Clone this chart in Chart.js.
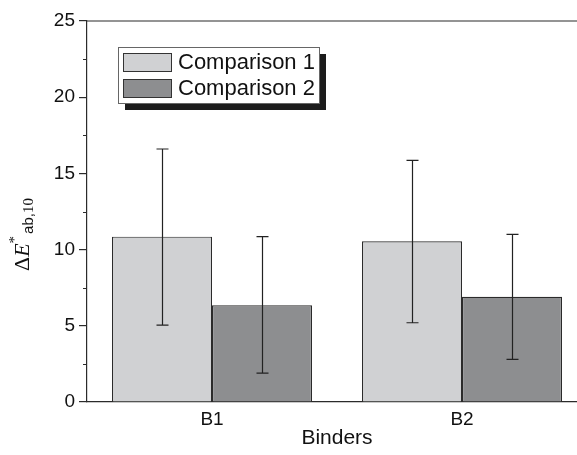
<!DOCTYPE html>
<html>
<head>
<meta charset="utf-8">
<script src="https://cdn.jsdelivr.net/npm/chart.js@4.4.1/dist/chart.umd.min.js"></script>
<style>
  html, body { margin: 0; padding: 0; background: #fff; overflow: hidden; }
  #wrap { width: 577px; height: 455px; overflow: hidden; }
</style>
</head>
<body>
<div id="wrap"><canvas id="chart" width="600" height="455"></canvas></div>
<script>
// data
const categories = ['B1', 'B2'];
const comp1 = [10.85, 10.55];
const comp2 = [6.35, 6.9];
const comp1Low = [5.05, 5.2];
const comp1High = [16.6, 15.85];
const comp2Low = [1.9, 2.8];
const comp2High = [10.85, 11.0];
const yTicks = [0, 5, 10, 15, 20, 25];
const yMinor = [2.5, 7.5, 12.5, 17.5, 22.5];

const axisColor = '#2b2b2b';
const errLow = [comp1Low, comp2Low];
const errHigh = [comp1High, comp2High];

// error bars, minor ticks, top frame, legend and y title
const extras = {
    id: 'extras',
    afterDatasetsDraw(chart) {
        const ctx = chart.ctx;
        const y = chart.scales.y;
        ctx.save();
        ctx.strokeStyle = '#222';
        ctx.lineWidth = 1.2;
        chart.data.datasets.forEach((ds, i) => {
            chart.getDatasetMeta(i).data.forEach((bar, j) => {
                const x = Math.round(bar.x) + 0.5;
                const lo = y.getPixelForValue(errLow[i][j]);
                const hi = y.getPixelForValue(errHigh[i][j]);
                ctx.beginPath();
                ctx.moveTo(x, lo); ctx.lineTo(x, hi);
                ctx.moveTo(x - 6, lo); ctx.lineTo(x + 6, lo);
                ctx.moveTo(x - 6, hi); ctx.lineTo(x + 6, hi);
                ctx.stroke();
            });
        });
        ctx.restore();
    },
    afterDraw(chart) {
        const ctx = chart.ctx;
        const area = chart.chartArea;
        const y = chart.scales.y;
        ctx.save();
        // top frame line
        ctx.strokeStyle = axisColor;
        ctx.lineWidth = 1.2;
        ctx.beginPath();
        ctx.moveTo(area.left, area.top);
        ctx.lineTo(area.right, area.top);
        ctx.stroke();
        // minor ticks
        ctx.beginPath();
        yMinor.forEach(v => {
            const py = Math.round(y.getPixelForValue(v)) + 0.5;
            ctx.moveTo(area.left - 4, py);
            ctx.lineTo(area.left, py);
        });
        ctx.stroke();

        // legend with drop shadow
        const lx = 118, ly = 47, lw = 201, lh = 56;
        ctx.fillStyle = '#1c1c1c';
        ctx.fillRect(lx + 7, ly + 7, lw, lh);
        ctx.fillStyle = '#fff';
        ctx.fillRect(lx, ly, lw, lh);
        ctx.strokeStyle = '#666';
        ctx.lineWidth = 1;
        ctx.strokeRect(lx + 0.5, ly + 0.5, lw, lh);
        ctx.font = '22px "Liberation Sans", Arial, sans-serif';
        ctx.textBaseline = 'middle';
        chart.data.datasets.forEach((ds, i) => {
            const sy = ly + 6 + i * 26;
            ctx.fillStyle = ds.backgroundColor;
            ctx.fillRect(lx + 5, sy, 49, 19);
            ctx.strokeStyle = '#333';
            ctx.strokeRect(lx + 5.5, sy + 0.5, 48, 18);
            ctx.fillStyle = '#111';
            ctx.fillText(ds.label, lx + 60, sy + 10);
        });

        // y axis title: ΔE*ab,10
        ctx.translate(29, 271);
        ctx.rotate(-Math.PI / 2);
        ctx.fillStyle = '#111';
        ctx.textBaseline = 'alphabetic';
        ctx.font = '22px "Liberation Serif", "Times New Roman", serif';
        ctx.fillText('\u0394', 0, 0);
        let w = ctx.measureText('\u0394').width;
        ctx.font = 'italic 22px "Liberation Serif", "Times New Roman", serif';
        ctx.fillText('E', w, 0);
        w += ctx.measureText('E').width;
        ctx.font = '15px "Liberation Serif", "Times New Roman", serif';
        ctx.fillText('*', w, -10);
        w += ctx.measureText('*').width + 2;
        ctx.font = '15px "Liberation Sans", Arial, sans-serif';
        ctx.fillText('ab,', w, 4);
        const w2 = ctx.measureText('ab,').width;
        ctx.font = '15px "Liberation Serif", "Times New Roman", serif';
        ctx.fillText('10', w + w2, 4);
        ctx.restore();
    }
};

const chart = new Chart(document.getElementById('chart').getContext('2d'), {
    type: 'bar',
    data: {
        labels: categories,
        datasets: [{
            label: 'Comparison 1',
            data: comp1,
            backgroundColor: '#d0d1d3',
            borderColor: '#2b2b2b',
            borderWidth: 1.2
        }, {
            label: 'Comparison 2',
            data: comp2,
            backgroundColor: '#8d8e90',
            borderColor: '#2b2b2b',
            borderWidth: 1.2
        }]
    },
    options: {
        responsive: false,
        animation: false,
        layout: { padding: { top: 21, right: 13, left: 0, bottom: 0 } },
        categoryPercentage: 0.8,
        barPercentage: 1.0,
        plugins: {
            legend: { display: false },
            tooltip: { enabled: false }
        },
        scales: {
            x: {
                grid: { display: false, drawTicks: false, tickLength: 0 },
                border: { display: true, color: axisColor, width: 1.2 },
                ticks: {
                    color: '#111',
                    padding: 6,
                    font: { family: '"Liberation Sans", Arial, sans-serif', size: 19 }
                },
                title: {
                    display: true,
                    text: 'Binders',
                    color: '#111',
                    padding: { top: 4, bottom: 4 },
                    font: { family: '"Liberation Sans", Arial, sans-serif', size: 21 }
                },
                afterFit(scale) { scale.height = 53; }
            },
            y: {
                min: 0,
                max: 25,
                afterBuildTicks(scale) { scale.ticks = yTicks.map(v => ({ value: v })); },
                grid: {
                    drawOnChartArea: false,
                    drawTicks: true,
                    tickLength: 8,
                    color: axisColor,
                    lineWidth: 1.2
                },
                border: { display: true, color: axisColor, width: 1.2 },
                ticks: {
                    color: '#111',
                    padding: 4,
                    font: { family: '"Liberation Sans", Arial, sans-serif', size: 19 }
                },
                afterFit(scale) { scale.width = 87; }
            }
        }
    },
    plugins: [extras]
});
</script>
</body>
</html>
